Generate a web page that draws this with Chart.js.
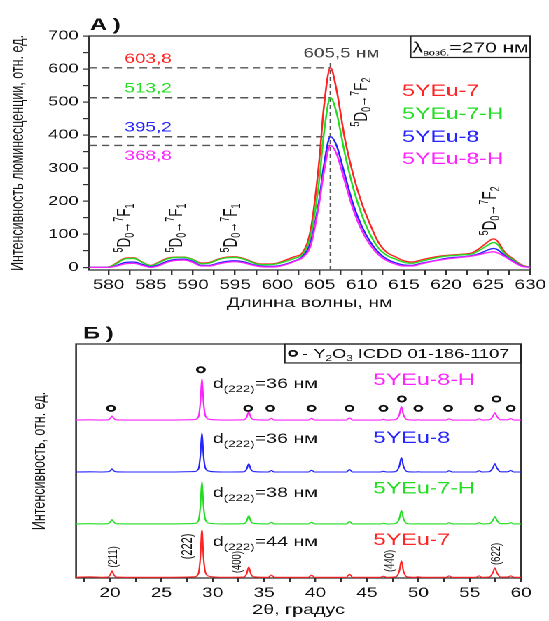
<!DOCTYPE html>
<html lang="ru">
<head>
    <meta charset="UTF-8">
    <title>Люминесценция и рентгенограммы образцов 5YEu</title>
    <style>
        html, body { margin: 0; padding: 0; background: #fff; overflow: hidden; }
        /* the source figure is stretched sideways, so the drawing is widened the same way */
        #figure {
            position: absolute; left: 0; top: 0;
            width: 392px; height: 621px;
            transform-origin: 0 0;
            transform: scaleX(1.4005);
        }
        #spectrumChart { position: absolute; left: 0; top: 0; }
        #xrdChart { position: absolute; left: 0; top: 315px; }
    </style>
</head>
<body>
<div id="figure">
    <canvas id="spectrumChart" width="392" height="315"></canvas>
    <canvas id="xrdChart" width="392" height="306"></canvas>
</div>
<script src="https://cdn.jsdelivr.net/npm/chart.js"></script>
<script>
const FONT = '"Liberation Sans", Arial, sans-serif';
Chart.defaults.font.family = FONT;
Chart.defaults.color = '#111';

// ---- A) luminescence spectra ----
const wavelengthNm = [577.7, 578, 579, 580, 581, 582, 583, 584, 585, 586, 587, 588, 589, 590, 591, 592, 593, 594, 595, 596,
    597, 598, 599, 600, 601, 602, 603, 604, 605, 605.5, 606.3, 607, 608, 609, 610, 611, 612, 613, 614, 615,
    616, 617, 618, 619, 620, 621, 622, 623, 624, 625, 625.6, 626, 627, 628, 629, 630];
const lum5YEu7 = [0, 0, 0, 1, 14, 28, 29, 16, 6, 16, 28, 31, 31, 24, 13, 15, 25, 31, 32, 27,
    17, 10, 10, 13, 22, 32, 45, 120, 330, 480, 603.8, 540, 390, 280, 195, 130, 75, 45, 32, 20,
    16, 22, 28, 33, 36, 38, 40, 43, 58, 78, 86, 82, 45, 25, 7, 0];
const lum5YEu7H = [0, 0, 0, 1, 12, 26, 27, 15, 5, 14, 26, 30, 30, 23, 11, 13, 23, 29, 30, 25,
    15, 8, 8, 11, 18, 27, 40, 100, 270, 400, 513.2, 470, 345, 240, 160, 100, 58, 36, 25, 15,
    12, 18, 24, 30, 34, 36, 38, 40, 52, 68, 75, 72, 40, 22, 5, 0];
const lum5YEu8 = [0, 0, 0, 0, 6, 15, 16, 9, 2, 8, 19, 24, 25, 18, 6, 6, 13, 18, 20, 17,
    9, 4, 3, 4, 10, 19, 33, 80, 210, 305, 395.2, 370, 280, 190, 125, 78, 45, 25, 14, 7,
    6, 12, 17, 22, 27, 30, 32, 35, 42, 53, 57, 55, 35, 18, 4, 0];
const lum5YEu8H = [0, 0, 0, 0, 4, 11, 12, 6, 0, 5, 16, 21, 22, 15, 4, 4, 10, 15, 17, 14,
    7, 2, 1, 2, 8, 18, 30, 70, 200, 285, 368.8, 345, 260, 175, 112, 68, 38, 20, 10, 4,
    4, 10, 16, 21, 25, 28, 31, 34, 39, 45, 47, 45, 32, 16, 3, 0];
const sampleNames = ['5YEu-7', '5YEu-7-H', '5YEu-8', '5YEu-8-H'];
const peakWavelengthNm = 606.3;
const peakMaxima = [603.8, 513.2, 395.2, 368.8];
const peakMaximaText = ['603,8', '513,2', '395,2', '368,8'];
const peakCaption = '605,5 нм';
const excitationNm = 270;
const xTicksA = [580, 585, 590, 595, 600, 605, 610, 615, 620, 625, 630];
const yTicksA = [0, 100, 200, 300, 400, 500, 600, 700];

// ---- Б) XRD patterns ----
const twoTheta = [16.7, 18, 19.2, 19.8, 20.05, 20.2, 20.35, 20.6,
    22, 24, 26, 28.2, 28.6, 28.8, 28.95, 29.1,
    29.3, 29.7, 31, 33.0, 33.3, 33.5, 33.7, 34.0,
    35.4, 35.7, 36.0, 38, 39.3, 39.6, 39.9, 41.5,
    43.0, 43.3, 43.6, 45, 46.3, 46.6, 46.9, 47.8,
    48.15, 48.35, 48.55, 48.9, 49.7, 50.0, 50.3, 51.5,
    52.7, 53.0, 53.3, 55.0, 55.6, 55.9, 56.2, 56.9,
    57.25, 57.45, 57.65, 58.0, 58.7, 59.0, 59.3, 60];
const xrd5YEu7 = [0.3, 0.5, 0.3, 0.4, 1.6, 3.0, 1.6, 0.4,
    0.3, 0.3, 0.3, 0.5, 1.8, 9, 20.5, 9,
    2.2, 0.7, 0.3, 0.4, 1.8, 4.7, 1.8, 0.5,
    0.3, 1.2, 0.3, 0.3, 0.3, 1.2, 0.3, 0.3,
    0.3, 1.6, 0.3, 0.3, 0.3, 0.7, 0.3, 0.5,
    3.0, 7.3, 3.0, 0.5, 0.3, 0.5, 0.3, 0.3,
    0.3, 0.9, 0.3, 0.3, 0.3, 0.9, 0.3, 0.4,
    2.2, 4.3, 2.2, 0.4, 0.4, 0.9, 0.3, 0.3];
const xrd5YEu7H = [0.3, 0.4, 0.3, 0.4, 1.2, 2.1, 1.2, 0.4,
    0.3, 0.3, 0.3, 0.5, 1.6, 8, 18.4, 8,
    2.0, 0.6, 0.3, 0.4, 1.5, 3.8, 1.5, 0.5,
    0.3, 1.0, 0.3, 0.3, 0.3, 1.0, 0.3, 0.3,
    0.3, 1.3, 0.3, 0.3, 0.3, 0.6, 0.3, 0.5,
    2.6, 6.0, 2.6, 0.5, 0.3, 0.4, 0.3, 0.3,
    0.3, 0.8, 0.3, 0.3, 0.3, 0.8, 0.3, 0.4,
    1.8, 3.4, 1.8, 0.4, 0.4, 0.8, 0.3, 0.3];
const xrd5YEu8 = [0.3, 0.4, 0.3, 0.4, 0.9, 1.6, 0.9, 0.4,
    0.3, 0.3, 0.3, 0.5, 1.5, 7.5, 17, 7.5,
    1.8, 0.6, 0.3, 0.4, 1.5, 3.8, 1.5, 0.5,
    0.3, 0.9, 0.3, 0.3, 0.3, 1.0, 0.3, 0.3,
    0.3, 1.3, 0.3, 0.3, 0.3, 0.6, 0.3, 0.5,
    2.8, 6.4, 2.8, 0.5, 0.3, 0.4, 0.3, 0.3,
    0.3, 0.8, 0.3, 0.3, 0.3, 0.8, 0.3, 0.4,
    2.0, 3.8, 2.0, 0.4, 0.4, 0.9, 0.3, 0.3];
const xrd5YEu8H = [0.3, 0.4, 0.3, 0.4, 1.1, 2.0, 1.1, 0.4,
    0.3, 0.3, 0.3, 0.5, 1.6, 8, 18, 8,
    2.0, 0.6, 0.3, 0.4, 1.5, 3.8, 1.5, 0.5,
    0.3, 1.0, 0.3, 0.3, 0.3, 1.0, 0.3, 0.3,
    0.3, 1.2, 0.3, 0.3, 0.3, 0.6, 0.3, 0.5,
    2.6, 6.0, 2.6, 0.5, 0.3, 0.4, 0.3, 0.3,
    0.3, 0.8, 0.3, 0.3, 0.3, 0.8, 0.3, 0.4,
    1.8, 3.4, 1.8, 0.4, 0.4, 0.9, 0.3, 0.3];
const patternOffsets = [0, 22.8, 45, 67.2];
const crystalliteNm = [44, 38, 36, 36];
const refPeakTwoTheta = [20.1, 28.85, 33.45, 35.6, 39.6, 43.3, 46.6, 48.4, 50.0, 52.9, 55.9, 57.6, 59.0];
const refPeakLevel = [72.5, 89, 72.5, 72.5, 72.5, 72.5, 72.5, 76.5, 72.5, 72.5, 72.5, 76.5, 72.5];
const hklLabels = ['(211)', '(222)', '(400)', '(440)', '(622)'];
const xTicksB = [20, 25, 30, 35, 40, 45, 50, 55, 60];

const seriesColors = ['#ff2424', '#22dd22', '#2424ff', '#ff24ff'];

function stepTicks(from, to, step) {
    const out = [];
    for (let v = from; v <= to + 1e-9; v += step) out.push(Math.round(v * 10) / 10);
    return out;
}

function fontOf(p) {
    return (p.w || 'normal') + ' ' + p.s + 'px ' + FONT;
}

// text made of pieces (sub/superscripts); y is the middle of the capitals
function richText(ctx, parts, x, y, opts) {
    const o = Object.assign({ align: 'left', rotate: false, color: '#111' }, opts);
    ctx.save();
    ctx.translate(x, y);
    if (o.rotate) ctx.rotate(-Math.PI / 2);
    ctx.fillStyle = o.color;
    ctx.textBaseline = 'alphabetic';
    ctx.textAlign = 'left';
    const main = Math.max(...parts.map(p => p.s));
    const widths = parts.map(p => { ctx.font = fontOf(p); return ctx.measureText(p.t).width + (p.gap || 0); });
    const total = widths.reduce((a, b) => a + b, 0);
    let cx = o.align === 'center' ? -total / 2 : (o.align === 'right' ? -total : 0);
    const base = main * 0.36;
    parts.forEach((p, i) => {
        ctx.font = fontOf(p);
        ctx.fillText(p.t, cx, base + (p.dy || 0));
        cx += widths[i];
    });
    ctx.restore();
}

function transition(level) {
    return [
        { t: '5', s: 9, dy: -5.5 }, { t: 'D', s: 13.5 }, { t: '0', s: 9, dy: 2.5 },
        { t: '→', s: 11 },
        { t: '7', s: 9, dy: -5.5 }, { t: 'F', s: 13.5 }, { t: level, s: 9, dy: 2.5 }
    ];
}

const spectrumNotes = {
    id: 'spectrumNotes',
    beforeDatasetsDraw(chart) {
        const { ctx, chartArea: a, scales: { x, y } } = chart;
        ctx.save();
        ctx.strokeStyle = '#333';
        ctx.lineWidth = 1.3;
        ctx.strokeRect(a.left, a.top, a.right - a.left, a.bottom - a.top);

        const xp = x.getPixelForValue(peakWavelengthNm);
        ctx.strokeStyle = '#555';
        ctx.lineWidth = 1.4;
        ctx.setLineDash([5.5, 3.5]);
        peakMaxima.forEach(v => {
            const yp = y.getPixelForValue(v);
            ctx.beginPath();
            ctx.moveTo(a.left, yp);
            ctx.lineTo(xp, yp);
            ctx.stroke();
        });
        ctx.setLineDash([4, 3]);
        ctx.lineWidth = 1.2;
        ctx.beginPath();
        ctx.moveTo(xp, a.bottom);
        ctx.lineTo(xp, y.getPixelForValue(621));
        ctx.stroke();
        ctx.restore();
    },
    afterDatasetsDraw(chart) {
        const { ctx, chartArea: a, scales: { x, y } } = chart;
        const X = v => x.getPixelForValue(v);
        const Y = v => y.getPixelForValue(v);

        richText(ctx, [{ t: 'A', s: 17, w: 'bold', gap: 4 }, { t: ')', s: 17, w: 'bold' }], X(577.8), Y(736));

        peakMaximaText.forEach((t, i) => {
            richText(ctx, [{ t, s: 13.5 }], X(581.9), Y([633, 543, 425, 340][i]), { color: seriesColors[i] });
        });
        richText(ctx, [{ t: peakCaption, s: 13.5 }], X(607.6), Y(649), { align: 'center', color: '#444' });

        sampleNames.forEach((t, i) => {
            richText(ctx, [{ t, s: 16.5 }], X(614.8), Y([537, 467, 397, 331][i]), { color: seriesColors[i] });
        });

        // excitation wavelength box
        ctx.save();
        ctx.strokeStyle = '#222';
        ctx.lineWidth = 1.2;
        ctx.strokeRect(X(615.8), a.top, a.right - X(615.8), Y(635) - a.top);
        ctx.restore();
        richText(ctx, [{ t: 'λ', s: 15 }, { t: 'возб.', s: 8, dy: 3 }, { t: '=' + excitationNm + ' нм', s: 15 }],
            X(622.9), Y(667), { align: 'center' });

        [581.8, 587.9, 594.4].forEach(v => {
            richText(ctx, transition('1'), X(v), Y(119), { align: 'center', rotate: true });
        });
        richText(ctx, transition('2'), X(609.8), Y(500), { align: 'center', rotate: true });
        richText(ctx, transition('2'), X(625.1), Y(171), { align: 'center', rotate: true });
    }
};

const xrdNotes = {
    id: 'xrdNotes',
    beforeDatasetsDraw(chart) {
        const { ctx, chartArea: a } = chart;
        ctx.save();
        ctx.strokeStyle = '#333';
        ctx.lineWidth = 1.3;
        ctx.strokeRect(a.left, a.top, a.right - a.left, a.bottom - a.top);
        ctx.restore();
    },
    afterDatasetsDraw(chart) {
        const { ctx, chartArea: a, scales: { x, y } } = chart;
        const X = v => x.getPixelForValue(v);
        const Y = v => y.getPixelForValue(v);

        richText(ctx, [{ t: 'Б', s: 17, w: 'bold', gap: 4 }, { t: ')', s: 17, w: 'bold' }], X(17.38), Y(104.9));

        // reference legend box
        ctx.save();
        ctx.strokeStyle = '#222';
        ctx.lineWidth = 1.2;
        ctx.strokeRect(X(37), a.top, a.right - X(37), Y(91.9) - a.top);
        ctx.beginPath();
        ctx.arc(X(37.8), Y(96), 2.6, 0, Math.PI * 2);
        ctx.fillStyle = '#fff';
        ctx.fill();
        ctx.lineWidth = 1.8;
        ctx.strokeStyle = '#111';
        ctx.stroke();
        ctx.restore();
        richText(ctx, [{ t: '- Y', s: 13 }, { t: '2', s: 8.5, dy: 3 }, { t: 'O', s: 13 }, { t: '3', s: 8.5, dy: 3 },
            { t: ' ICDD 01-186-1107', s: 13 }], X(38.7), Y(96));

        crystalliteNm.forEach((d, i) => {
            richText(ctx, [{ t: 'd', s: 14 }, { t: '(222)', s: 9.5, dy: 4 }, { t: '=' + d + ' нм', s: 14 }],
                X(30.0), Y([15.8, 36.8, 59.8, 83.3][i]));
        });
        sampleNames.forEach((t, i) => {
            richText(ctx, [{ t, s: 16.5 }], X(45.6), Y([16.7, 38.7, 60.3, 85][i]), { color: seriesColors[i] });
        });

        const hklAt = [[20.2, 9], [27.4, 13.5], [32.25, 6.8], [47.1, 7.3], [57.5, 10.3]];
        hklLabels.forEach((t, i) => {
            richText(ctx, [{ t, s: t === '(222)' ? 11 : 9.5 }], X(hklAt[i][0]), Y(hklAt[i][1]),
                { align: 'center', rotate: true });
        });
    }
};

// panel A
const lumSeries = [lum5YEu7, lum5YEu7H, lum5YEu8, lum5YEu8H];
new Chart(document.getElementById('spectrumChart'), {
    type: 'line',
    data: {
        datasets: lumSeries.map((vals, i) => ({
            label: sampleNames[i],
            data: wavelengthNm.map((x, j) => ({ x, y: vals[j] })),
            borderColor: seriesColors[i],
            borderWidth: 1.3,
            pointRadius: 0,
            cubicInterpolationMode: 'monotone',
            fill: false,
            order: 3 - i
        }))
    },
    options: {
        responsive: false,
        animation: false,
        devicePixelRatio: 2,
        layout: { padding: { left: 0, right: 10.9, top: 36, bottom: 0 } },
        plugins: { legend: { display: false }, tooltip: { enabled: false } },
        scales: {
            x: {
                type: 'linear', min: 577.7, max: 630,
                afterBuildTicks: s => { s.ticks = stepTicks(580, 630, 2.5).map(value => ({ value })); },
                afterFit: s => { s.height = 45; },
                ticks: { autoSkip: false, maxRotation: 0, padding: 2, font: { size: 13.5 },
                    callback: v => xTicksA.includes(v) ? String(v) : '' },
                grid: { drawOnChartArea: false, tickLength: 5, color: '#333', lineWidth: 1.2 },
                border: { display: false },
                title: { display: true, text: 'Длинна волны, нм', font: { size: 14 }, padding: { top: 0, bottom: 3.6 } }
            },
            y: {
                min: -8, max: 700,
                afterBuildTicks: s => { s.ticks = stepTicks(0, 700, 50).map(value => ({ value })); },
                afterFit: s => { s.width = 63.6; },
                ticks: { autoSkip: false, padding: 3, font: { size: 13 },
                    callback: v => yTicksA.includes(v) ? String(v) : '' },
                grid: { drawOnChartArea: false, tickLength: 4.5, color: '#333', lineWidth: 1.2 },
                border: { display: false },
                title: { display: true, text: 'Интенсивность люминесценции, отн. ед.', font: { size: 12.5 },
                    padding: { top: 5.4, bottom: 0 } }
            }
        }
    },
    plugins: [spectrumNotes]
});

// panel Б
const xrdSeries = [xrd5YEu7, xrd5YEu7H, xrd5YEu8, xrd5YEu8H];
new Chart(document.getElementById('xrdChart'), {
    type: 'line',
    data: {
        datasets: [
            ...xrdSeries.map((vals, i) => ({
                label: sampleNames[i],
                data: twoTheta.map((x, j) => ({ x, y: vals[j] + patternOffsets[i] })),
                borderColor: seriesColors[i],
                borderWidth: 1.1,
                pointRadius: 0,
                cubicInterpolationMode: 'monotone',
                fill: false
            })),
            {
                type: 'scatter',
                label: 'Y2O3 ICDD 01-186-1107',
                data: refPeakTwoTheta.map((x, i) => ({ x, y: refPeakLevel[i] })),
                pointRadius: 2.6,
                pointBorderWidth: 1.8,
                pointBorderColor: '#111',
                pointBackgroundColor: '#fff',
                order: -1
            }
        ]
    },
    options: {
        responsive: false,
        animation: false,
        devicePixelRatio: 2,
        layout: { padding: { left: 0, right: 19.9, top: 29, bottom: 0 } },
        plugins: { legend: { display: false }, tooltip: { enabled: false } },
        scales: {
            x: {
                type: 'linear', min: 16.7, max: 60,
                afterBuildTicks: s => { s.ticks = stepTicks(17.5, 60, 2.5).map(value => ({ value })); },
                afterFit: s => { s.height = 43; },
                ticks: { autoSkip: false, maxRotation: 0, padding: 3, font: { size: 13.5 },
                    callback: v => xTicksB.includes(v) ? String(v) : '' },
                grid: { drawOnChartArea: false, tickLength: 4, color: '#333', lineWidth: 1.2 },
                border: { display: false },
                title: { display: true, text: '2θ, градус', font: { size: 14 }, padding: { top: 0, bottom: 2.6 } }
            },
            y: {
                min: 0, max: 100,
                afterFit: s => { s.width = 54.3; },
                ticks: { display: false },
                grid: { display: false },
                border: { display: false },
                title: { display: true, text: 'Интенсивность, отн. ед.', font: { size: 12.5 },
                    padding: { top: 21.1, bottom: 0 } }
            }
        }
    },
    plugins: [xrdNotes]
});
</script>
</body>
</html>
